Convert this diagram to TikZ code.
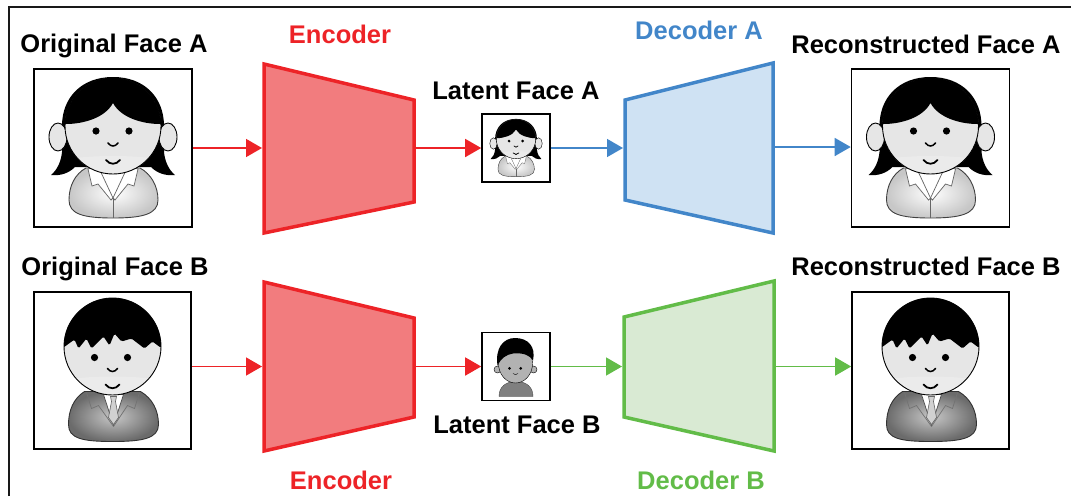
\documentclass[tikz,border=0pt]{standalone}
\usepackage{fontspec}
\setmainfont{Liberation Sans}
\usetikzlibrary{arrows.meta,calc}

\definecolor{encred}{RGB}{237,35,39}
\definecolor{encfill}{RGB}{242,124,126}
\definecolor{decblue}{RGB}{66,134,201}
\definecolor{decbluefill}{RGB}{207,226,243}
\definecolor{decgreen}{RGB}{98,188,72}
\definecolor{decgreenfill}{RGB}{217,234,211}
\definecolor{skin}{RGB}{230,230,230}

\def\facelw{0.9pt}

\tikzset{
  % woman with a bob haircut and a white blouse
  girl/.pic={
    \fill[black] (0,-71) .. controls (-32,-71) and (-51,-50) .. (-51,-22) -- (-51,4)
      .. controls (-52,14) and (-56,22) .. (-62,27) .. controls (-52,28) and (-44,25) .. (-38,19)
      -- (38,19) .. controls (44,25) and (52,28) .. (62,27) .. controls (56,22) and (52,14) .. (51,4)
      -- (51,-22) .. controls (51,-50) and (32,-71) .. (0,-71) -- cycle;
    \shadedraw[inner color=white, outer color=black!22, draw=black!75, line width=\facelw]
      (-27,20) .. controls (-38,26) and (-44,38) .. (-44,52) .. controls (-44,66) and (-30,70) .. (0,70)
      .. controls (30,70) and (45,66) .. (45,52) .. controls (45,38) and (38,26) .. (27,20) -- cycle;
    \fill[white] (-15,18) -- (15,18) -- (0,50) -- cycle;
    \filldraw[fill=white, draw=black!60, line width=0.8*\facelw]
      (-15,18) -- (0,50) -- (-2,52) -- (-15,36) -- (-21,38) -- (-25,21) -- cycle;
    \filldraw[fill=white, draw=black!60, line width=0.8*\facelw]
      (15,18) -- (0,50) -- (2,52) -- (15,36) -- (21,38) -- (25,21) -- cycle;
    \draw[black!60, line width=0.8*\facelw] (0,50) -- (0,70);
    \filldraw[fill=skin, draw=black, line width=\facelw] (-55,-11) ellipse [x radius=9, y radius=14];
    \filldraw[fill=skin, draw=black, line width=\facelw] (55,-11) ellipse [x radius=9, y radius=14];
    \fill[skin] (0,-22) circle [radius=48];
    \begin{scope}
      \clip (0,-22) circle [radius=48];
      \fill[black!8] (-60,14) .. controls (-30,6) and (30,6) .. (60,14) -- (60,40) -- (-60,40) -- cycle;
      \fill[black] (-60,-24) -- (-47,-24) .. controls (-30,-24) and (-8,-30) .. (0,-45)
        .. controls (8,-30) and (30,-24) .. (47,-24) -- (60,-24) -- (60,-80) -- (-60,-80) -- cycle;
    \end{scope}
    \draw[line width=\facelw] (0,-22) circle [radius=48];
    \fill (-17,-17) circle [radius=3.6];
    \fill (16,-17) circle [radius=3.6];
    \draw[line width=1.7*\facelw, line cap=round] (-5,-5) .. controls (-2,-1) and (2,-1) .. (5,-5);
    \draw[line width=2*\facelw, line cap=round] (-7,12) .. controls (-3,17) and (3,17) .. (7,12);
  },
  % man with short spiky hair in a grey suit and tie
  boy/.pic={
    \shadedraw[inner color=black!22, outer color=black!58, draw=black!80, line width=\facelw]
      (-28,21) .. controls (-39,28) and (-44,40) .. (-44,54) .. controls (-44,68) and (-30,71) .. (0,71)
      .. controls (30,71) and (46,68) .. (46,54) .. controls (46,40) and (40,28) .. (28,21) -- cycle;
    \filldraw[fill=white, draw=black!70, line width=0.8*\facelw] (-9,24) -- (11,24) -- (1,55) -- cycle;
    \filldraw[fill=black!18, draw=black!60, line width=0.7*\facelw]
      (-2,26) -- (4,26) -- (3,31) -- (6,47) -- (1,54) -- (-4,47) -- (-1,31) -- cycle;
    \draw[black!55, line width=0.8*\facelw] (-26,22) -- (-21,38) -- (-14,35) -- (1,56);
    \draw[black!55, line width=0.8*\facelw] (27,22) -- (22,38) -- (15,35) -- (1,56);
    \fill[skin] (0,-24) circle [radius=48.5];
    \begin{scope}
      \clip (0,-24) circle [radius=48.5];
      \fill[black!8] (-60,12) .. controls (-30,4) and (30,4) .. (60,12) -- (60,40) -- (-60,40) -- cycle;
      \fill[black, rounded corners=1.5pt] (-60,-22) -- (-49,-23) -- (-38,-31) -- (-34,-22) -- (-26,-32) -- (-21,-22)
        -- (-9,-34) -- (-3,-25) -- (2,-37) -- (9,-29) -- (19,-32) -- (32,-22) -- (40,-29)
        -- (48,-23) -- (60,-22) -- (60,-80) -- (-60,-80) -- cycle;
    \end{scope}
    \draw[line width=\facelw] (0,-24) circle [radius=48.5];
    \fill (-18,-13) circle [radius=3.6];
    \fill (15,-13) circle [radius=3.6];
    \draw[line width=1.7*\facelw, line cap=round] (-5,-2) .. controls (-2,2) and (2,2) .. (5,-2);
    \draw[line width=2*\facelw, line cap=round] (-7,14) .. controls (-3,19) and (3,19) .. (7,14);
  },
  % small boy in a dark shirt
  kid/.pic={
    \filldraw[fill=black!50, draw=black!70, line width=\facelw]
      (-17,30) .. controls (-17,20) and (-10,15) .. (0,15) .. controls (10,15) and (17,20) .. (17,30) -- cycle;
    \filldraw[fill=black!30, draw=black, line width=\facelw] (-18.5,3) circle [radius=3.5];
    \filldraw[fill=black!30, draw=black, line width=\facelw] (17.5,3) circle [radius=3.5];
    \filldraw[fill=black!30, draw=black, line width=\facelw] (-0.5,-3) ellipse [x radius=17, y radius=19.5];
    \fill[black] (-18.5,-1) .. controls (-21,-18) and (-13,-28.5) .. (-1,-28.5)
      .. controls (12,-28.5) and (20,-20) .. (17,-6) .. controls (14,-11) and (8,-14) .. (-3,-13)
      .. controls (-10,-12) and (-15,-8) .. (-18.5,-1) -- cycle;
    \fill (-6.5,1.8) circle [radius=1.5];
    \fill (4.7,1.8) circle [radius=1.5];
    \draw[line width=\facelw, line cap=round] (-3,7) .. controls (-1.5,8.5) and (0.5,8.5) .. (2,7);
  }
}

\begin{document}
\begin{tikzpicture}[x=1pt,y=-1pt,
  lbl/.style={font=\fontsize{25.5}{30}\selectfont\bfseries, anchor=base, inner sep=0pt},
  photo/.style={draw=black, line width=1.6pt, fill=white, minimum width=#1, minimum height=#1, inner sep=0pt},
  netbox/.style={line width=3.5pt, line join=miter},
  link/.style={line width=1.6pt, -{Triangle[length=16pt,width=18pt]}},
]
\useasboundingbox (0,0) rectangle (1071,496);

% outer frame
\draw[line width=2pt, black!90] (9,496) -- (9,7) -- (1071,7);

% image boxes
\node[photo=158pt] (origA) at (113,148) {};
\node[photo=157pt] (origB) at (112.5,370.5) {};
\node[photo=158pt] (recA) at (930.5,148) {};
\node[photo=157pt] (recB) at (930.5,370.5) {};
\node[photo=68pt] (latA) at (516,148) {};
\node[photo=68pt] (latB) at (516,366.5) {};

% faces
\pic at (origA) {girl};
\pic at (recA) {girl};
\pic at (origB) {boy};
\pic at (recB) {boy};
\begin{scope}
  \def\facelw{0.4pt}
  \pic[scale=0.41] at (latA) {girl};
  \pic at (latB) {kid};
\end{scope}

% connection points on the networks
\coordinate (encAin) at (262,148);
\coordinate (encAout) at (414,148);
\coordinate (decAin) at (623,148);
\coordinate (decAout) at (773,147);
\coordinate (encBin) at (262,366.5);
\coordinate (encBout) at (414,366.5);
\coordinate (decBin) at (622,366.5);
\coordinate (decBout) at (774,366.5);

% connectors
\draw[link, encred] (origA.east |- encAin) -- (encAin);
\draw[link, encred] (encAout) -- (latA.west);
\draw[link, decblue] (latA.east) -- (decAin);
\draw[link, decblue] (decAout) -- (recA.west |- decAout);
\draw[link, encred] (origB.east |- encBin) -- (encBin);
\draw[link, encred] (encBout) -- (latB.west);
\draw[link, decgreen] (latB.east) -- (decBin);
\draw[link, decgreen] (decBout) -- (recB.west |- decBout);

% encoders and decoders
\draw[netbox, draw=encred, fill=encfill] (264,64) -- (414,100) -- (414,202) -- (264,233) -- cycle;
\draw[netbox, draw=encred, fill=encfill] (264,282) -- (414,318) -- (414,417) -- (264,451) -- cycle;
\draw[netbox, draw=decblue, fill=decbluefill] (625,100) -- (773,63) -- (773,233) -- (625,200) -- cycle;
\draw[netbox, draw=decgreen, fill=decgreenfill] (624,317) -- (774,281) -- (774,451) -- (624,417) -- cycle;

% labels
\node[lbl] (tOrigA) at (114,52) {Original Face A};
\node[lbl, text=encred] (tEncA) at (340,43) {Encoder};
\node[lbl, text=decblue] (tDecA) at (699,39) {Decoder A};
\node[lbl] (tLatA) at (516,99) {Latent Face A};
\node[lbl] (tRecA) at (926,53) {Reconstructed Face A};
\node[lbl] (tOrigB) at (115,275) {Original Face B};
\node[lbl] (tRecB) at (926,275) {Reconstructed Face B};
\node[lbl] (tLatB) at (517,433) {Latent Face B};
\node[lbl, text=encred] (tEncB) at (341,489) {Encoder};
\node[lbl, text=decgreen] (tDecB) at (701,489) {Decoder B};
\end{tikzpicture}
\end{document}
